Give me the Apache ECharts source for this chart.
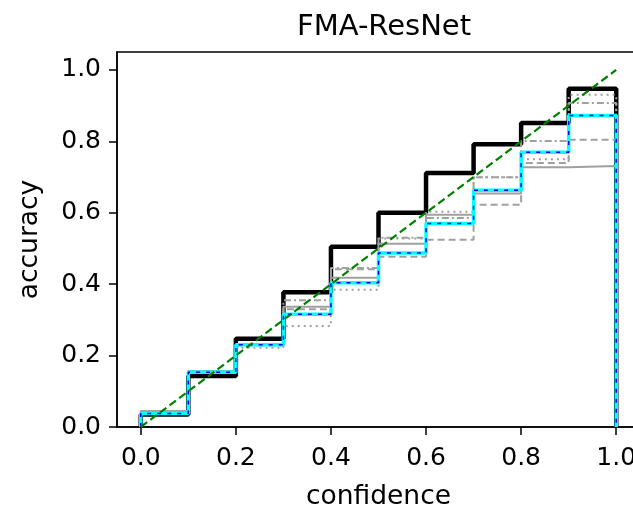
<!DOCTYPE html>
<html>
<head>
<meta charset="utf-8">
<script src="https://cdn.jsdelivr.net/npm/echarts@6/dist/echarts.min.js"></script>
<style>
  html, body { margin: 0; padding: 0; background: #fff; }
  #chart { width: 633px; height: 508px; }
</style>
</head>
<body>
<div id="chart"></div>
<script>
// bin edges and tick labels
var binEdges = [0, 0.1, 0.2, 0.3, 0.4, 0.5, 0.6, 0.7, 0.8, 0.9, 1.0];
var xTicks = [0, 0.2, 0.4, 0.6, 0.8, 1.0];
var yTicks = [0, 0.2, 0.4, 0.6, 0.8, 1.0];

// per-bin accuracy
var accMain    = [0.035, 0.143, 0.247, 0.377, 0.505, 0.600, 0.711, 0.792, 0.851, 0.947];
var accCyan    = [0.038, 0.153, 0.230, 0.316, 0.404, 0.487, 0.570, 0.663, 0.769, 0.872];
var accSolid   = [0.045, 0.157, 0.232, 0.337, 0.418, 0.513, 0.594, 0.654, 0.727, 0.731];
var accDashed  = [0.045, 0.155, 0.228, 0.330, 0.442, 0.477, 0.524, 0.622, 0.739, 0.804];
var accDotted  = [0.045, 0.157, 0.222, 0.283, 0.384, 0.528, 0.603, 0.699, 0.750, 0.930];
var accDashDot = [0.045, 0.157, 0.232, 0.355, 0.445, 0.530, 0.585, 0.699, 0.801, 0.907];
var diagonal   = [[0, 0], [1, 1]];

// turn bin values into a step outline (matplotlib style)
function steps(vals) {
    var pts = [[binEdges[0], 0]];
    for (var i = 0; i < vals.length; i++) {
        pts.push([binEdges[i], vals[i]]);
        pts.push([binEdges[i + 1], vals[i]]);
    }
    pts.push([binEdges[binEdges.length - 1], 0]);
    return pts;
}

function stepSeries(vals, color, width, type, z) {
    return {
        type: 'line',
        data: steps(vals),
        showSymbol: false,
        silent: true,
        z: z,
        lineStyle: { color: color, width: width, type: type }
    };
}

var font = 'DejaVu Sans';
var chart = echarts.init(document.getElementById('chart'));
chart.setOption({
    animation: false,
    title: {
        text: 'FMA-ResNet',
        left: 292,
        top: 8,
        textStyle: { fontFamily: font, fontSize: 29, fontWeight: 'normal', color: '#000' }
    },
    grid: {
        left: 117, top: 52, width: 523, height: 375,
        containLabel: false, outerBoundsMode: 'none',
        show: true, borderColor: '#000', borderWidth: 1.5
    },
    xAxis: {
        type: 'value', min: -0.05, max: 1.05,
        name: 'confidence', nameLocation: 'middle', nameGap: 57,
        nameTextStyle: { fontFamily: font, fontSize: 26.5, color: '#000' },
        axisLine: { onZero: false, lineStyle: { color: '#000', width: 1.5 } },
        axisTick: { customValues: xTicks, length: 8, lineStyle: { color: '#000', width: 1.5 } },
        axisLabel: {
            customValues: xTicks, margin: 19,
            fontFamily: font, fontSize: 25, color: '#000',
            formatter: function (v) { return v.toFixed(1); }
        },
        splitLine: { show: false }
    },
    yAxis: {
        type: 'value', min: 0, max: 1.05,
        name: 'accuracy', nameLocation: 'middle', nameGap: 73,
        nameTextStyle: { fontFamily: font, fontSize: 26.5, color: '#000' },
        axisLine: { onZero: false, lineStyle: { color: '#000', width: 1.5 } },
        axisTick: { customValues: yTicks, length: 8, lineStyle: { color: '#000', width: 1.5 } },
        axisLabel: {
            customValues: yTicks, margin: 16,
            fontFamily: font, fontSize: 25, color: '#000',
            formatter: function (v) { return v.toFixed(1); }
        },
        splitLine: { show: false }
    },
    series: [
        stepSeries(accMain, '#000000', 4.5, 'solid', 2),
        stepSeries(accSolid, '#a0a0a0', 2, 'solid', 3),
        stepSeries(accDashed, '#a0a0a0', 2, [7, 4], 3),
        stepSeries(accDotted, '#a0a0a0', 2, [2, 4], 3),
        stepSeries(accDashDot, '#a0a0a0', 2, [7, 3, 2, 3], 3),
        stepSeries(accCyan, '#00ffff', 3.5, 'solid', 4),
        stepSeries(accCyan, '#0000ff', 1.5, [4, 6], 5),
        {
            type: 'line', data: diagonal, showSymbol: false, silent: true, z: 6,
            lineStyle: { color: '#008000', width: 2.2, type: [8, 4] }
        }
    ]
});
</script>
</body>
</html>
